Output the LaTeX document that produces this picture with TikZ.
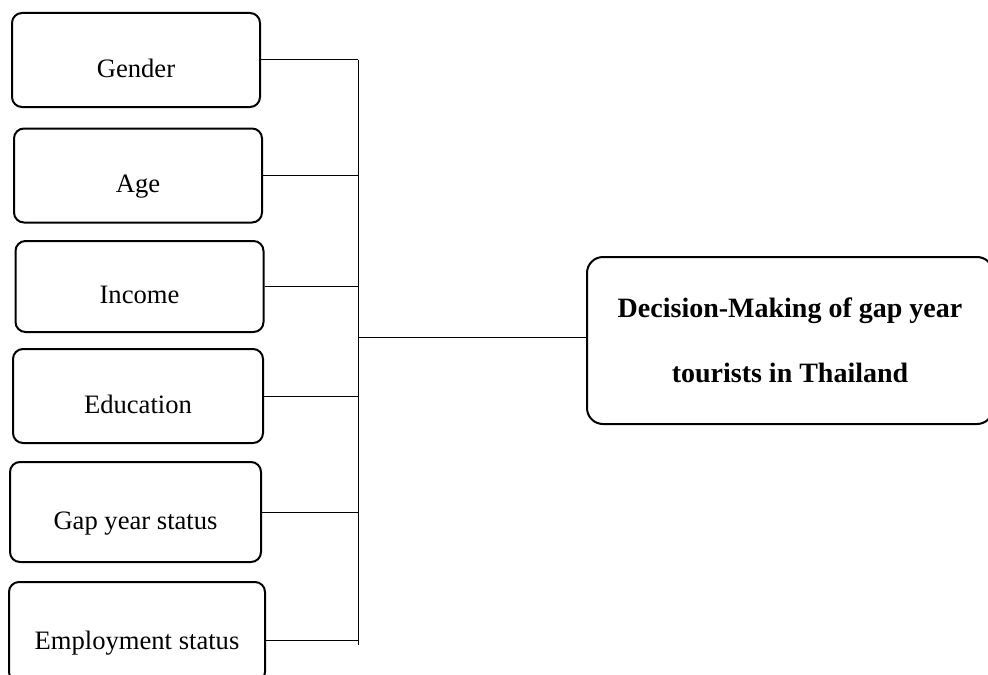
\documentclass[tikz,border=0pt]{standalone}
\usepackage{fontspec}
\setmainfont{Liberation Serif}
\begin{document}
\begin{tikzpicture}[x=0.5pt, y=-0.5pt,
	faktor/.style={draw=black, line width=1pt, rounded corners=5pt,
		minimum width=124pt, minimum height=47pt, inner sep=0pt,
		text height=17pt, text depth=0pt,
		font=\fontsize{13.3}{16}\selectfont},
	ziel/.style={draw=black, line width=1pt, rounded corners=8pt,
		minimum width=203pt, minimum height=83.5pt, inner sep=0pt,
		align=center, text depth=0pt,
		font=\fontsize{14}{14.5}\selectfont\bfseries},
	linie/.style={draw=black, line width=0.5pt}]
	\useasboundingbox (0,0) rectangle (988,674);

	% Einflussfaktoren
	\node[faktor] (gender) at (136, 60) {Gender};
	\node[faktor] (age) at (138, 175.5) {Age};
	\node[faktor, minimum height=45.5pt] (income) at (139.5, 286.5) {Income};
	\node[faktor, minimum width=125pt] (education) at (138, 396) {Education};
	\node[faktor, minimum width=125.5pt, minimum height=50pt] (gapyear) at (135.5, 512) {Gap year status};
	\node[faktor, minimum width=128pt, minimum height=50pt] (employment) at (137, 632) {Employment status};

	% Zielgroesse
	\node[ziel] (decision) at (790, 340.5) {Decision-Making of gap year\\[18pt]tourists in Thailand};

	% Sammelleitung
	\coordinate (trunktop) at (358, 60);
	\coordinate (trunkbot) at (358, 645);
	\coordinate (trunkemp) at (358, 640);
	\coordinate (junction) at (358, 337);
	\draw[linie] (trunktop) -- (trunkbot);

	% Verbindungslinien
	\draw[linie] (gender.east) -- (gender.east -| trunktop);
	\draw[linie] (age.east) -- (age.east -| trunktop);
	\draw[linie] (income.east) -- (income.east -| trunktop);
	\draw[linie] (education.east) -- (education.east -| trunktop);
	\draw[linie] (gapyear.east) -- (gapyear.east -| trunktop);
	\draw[linie] (trunkemp -| employment.east) -- (trunkemp);
	\draw[linie] (junction) -- (junction -| decision.west);
\end{tikzpicture}
\end{document}
